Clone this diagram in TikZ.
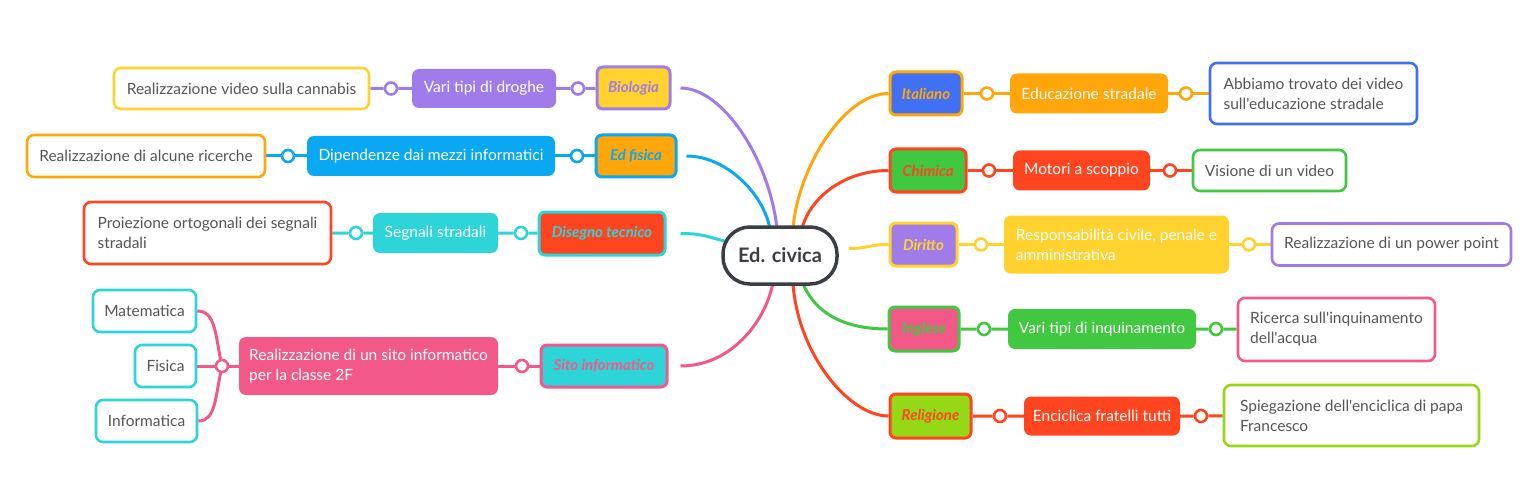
\documentclass[tikz,border=0pt]{standalone}
\usepackage{fontspec}
\setmainfont{Lato}[Ligatures=TeXOff]
\usetikzlibrary{backgrounds,calc}
\definecolor{cpurple}{HTML}{A07BEA}
\definecolor{cyellow}{HTML}{FFD22E}
\definecolor{csky}{HTML}{0AA7F2}
\definecolor{corange}{HTML}{FFA60A}
\definecolor{cred}{HTML}{FF4520}
\definecolor{ccyan}{HTML}{2ED5D8}
\definecolor{cpink}{HTML}{F25989}
\definecolor{cblue}{HTML}{4070F4}
\definecolor{cgreen}{HTML}{40C840}
\definecolor{clime}{HTML}{95D916}
\definecolor{cdark}{HTML}{3B3F45}
\definecolor{ctext}{HTML}{555555}
\begin{document}
\begin{tikzpicture}[x=1pt,y=-1pt,
  leaf/.style={draw=#1, line width=2.6pt, fill=white, rounded corners=7pt, text=ctext,
    font=\fontsize{15.5}{20}\selectfont, inner sep=0pt, align=left},
  lvtwo/.style={fill=#1, rounded corners=7pt, text=white,
    font=\fontsize{15.5}{20}\selectfont, inner sep=0pt, align=left},
  subj/.style 2 args={fill=#1, draw=#2, text=#2, line width=3pt, rounded corners=6pt,
    font=\fontsize{15}{17}\selectfont\bfseries\itshape, inner sep=0pt},
  dot/.style={circle, draw=#1, fill=white, line width=2.6pt, minimum size=12pt, inner sep=0pt},
  ln/.style={draw=#1, line width=3pt},
]
\useasboundingbox (0,0) rectangle (1524,492);

% center
\node[draw=cdark, line width=3.5pt, fill=white, rounded corners=27pt,
  minimum width=114pt, minimum height=57pt, text=cdark,
  font=\fontsize{20}{22}\selectfont\bfseries] (ed) at (780,255.5) {Ed. civica};

% ---------- left side ----------
% Biologia
\node[subj={cyellow}{cpurple}, minimum width=73pt, minimum height=42pt] (bio) at (633.5,88) {Biologia};
\node[lvtwo=cpurple, minimum width=144pt, minimum height=39pt] (droghe) at (484,88.5) {Vari tipi di droghe};
\node[leaf=cyellow, minimum width=255pt, minimum height=41pt] (cannabis) at (241.5,88.5) {Realizzazione video sulla cannabis};
\node[dot=cpurple] (c1a) at (391,88.5) {};
\node[dot=cpurple] (c1b) at (578,88.5) {};

% Ed fisica
\node[subj={corange}{csky}, minimum width=80pt, minimum height=42pt] (edf) at (636,156) {Ed fisica};
\node[lvtwo=csky, minimum width=248pt, minimum height=40pt] (dip) at (431,156) {Dipendenze dai mezzi informatici};
\node[leaf=corange, minimum width=238pt, minimum height=42pt] (ricerche) at (146,156) {Realizzazione di alcune ricerche};
\node[dot=csky] (c2a) at (288,156) {};
\node[dot=csky] (c2b) at (577,156) {};

% Disegno tecnico
\node[subj={cred}{ccyan}, minimum width=126pt, minimum height=43pt] (dis) at (602,233.5) {Disegno tecnico};
\node[lvtwo=ccyan, minimum width=125pt, minimum height=40pt] (segn) at (435.5,233) {Segnali stradali};
\node[leaf=cred, minimum width=247pt, minimum height=62pt] (proiez) at (207.5,233) {Proiezione ortogonali dei segnali\\stradali};
\node[dot=ccyan] (c3a) at (356,233) {};
\node[dot=ccyan] (c3b) at (521,233) {};

% Sito informatico
\node[subj={ccyan}{cpink}, minimum width=126pt, minimum height=42pt] (sito) at (604,366) {Sito informatico};
\node[lvtwo=cpink, minimum width=259pt, minimum height=58pt] (sitoL) at (368.5,366) {Realizzazione di un sito informatico\\per la classe 2F};
\node[leaf=ccyan, minimum width=103pt, minimum height=42pt] (mat) at (144.5,311) {Matematica};
\node[leaf=ccyan, minimum width=61pt, minimum height=42pt] (fis) at (165.5,366) {Fisica};
\node[leaf=ccyan, minimum width=101pt, minimum height=42pt] (inf) at (146.5,421) {Informatica};
\node[dot=cpink] (c4a) at (222,366) {};
\node[dot=cpink] (c4b) at (522,366) {};

% ---------- right side ----------
% Italiano
\node[subj={cblue}{corange}, minimum width=72pt, minimum height=43pt] (ita) at (926,93.5) {Italiano};
\node[lvtwo=corange, minimum width=158pt, minimum height=40pt] (edu) at (1089,93.5) {Educazione stradale};
\node[leaf=cblue, minimum width=207pt, minimum height=61pt] (abb) at (1313.5,93.5) {Abbiamo trovato dei video\\sull'educazione stradale};
\node[dot=corange] (c5a) at (987,93.5) {};
\node[dot=corange] (c5b) at (1186,93.5) {};

% Chimica
\node[subj={cgreen}{cred}, minimum width=76pt, minimum height=43pt] (chi) at (928,170.5) {Chimica};
\node[lvtwo=cred, minimum width=137pt, minimum height=40pt] (mot) at (1081.5,170.5) {Motori a scoppio};
\node[leaf=cgreen, minimum width=153pt, minimum height=41pt] (vis) at (1269.5,170.5) {Visione di un video};
\node[dot=cred] (c6a) at (989,170.5) {};
\node[dot=cred] (c6b) at (1170,170.5) {};

% Diritto
\node[subj={cpurple}{cyellow}, minimum width=67pt, minimum height=43pt] (dir) at (923.5,244.5) {Diritto};
\node[lvtwo=cyellow, minimum width=225pt, minimum height=58pt] (resp) at (1116.5,244.5) {Responsabilità civile, penale e\\amministrativa};
\node[leaf=cpurple, minimum width=239pt, minimum height=42pt] (pp) at (1391.5,244.5) {Realizzazione di un power point};
\node[dot=cyellow] (c7a) at (981,244.5) {};
\node[dot=cyellow] (c7b) at (1249,244.5) {};

% Inglese
\node[subj={cpink}{cgreen}, minimum width=70pt, minimum height=44pt] (ing) at (924,329) {Inglese};
\node[lvtwo=cgreen, minimum width=188pt, minimum height=40pt] (inq) at (1102,329) {Vari tipi di inquinamento};
\node[leaf=cpink, minimum width=197pt, minimum height=63pt] (ric) at (1336.5,329.5) {Ricerca sull'inquinamento\\dell'acqua};
\node[dot=cgreen] (c8a) at (984,329) {};
\node[dot=cgreen] (c8b) at (1216,329) {};

% Religione
\node[subj={clime}{cred}, minimum width=81pt, minimum height=44pt] (rel) at (930.5,416) {Religione};
\node[lvtwo=cred, minimum width=156pt, minimum height=39pt] (enc) at (1102,416) {Enciclica fratelli tutti};
\node[leaf=clime, minimum width=255pt, minimum height=61pt] (spi) at (1351.5,415.5) {Spiegazione dell'enciclica di papa\\Francesco};
\node[dot=cred] (c9a) at (1000,416) {};
\node[dot=cred] (c9b) at (1201,416) {};

% ---------- connectors ----------
\begin{pgfonlayer}{background}
\fill[white] (0,0) rectangle (1524,492);
\draw[ln=cpurple] (cannabis) -- (c1a) -- (droghe) -- (c1b) -- (bio);
\draw[ln=csky] (ricerche) -- (c2a) -- (dip) -- (c2b) -- (edf);
\draw[ln=ccyan] (proiez) -- (c3a) -- (segn) -- (c3b) -- (dis);
\draw[ln=cpink] (sitoL) -- (c4b) -- (sito);
\draw[ln=cpink] (c4a.center) -- (sitoL);
\draw[ln=cpink] (c4a.center) -- (fis.east);
\draw[ln=cpink] (c4a.center) .. controls (215,335) and (216,311) .. (mat.east);
\draw[ln=cpink] (c4a.center) .. controls (215,397) and (216,421) .. (inf.east);
\draw[ln=corange] (ita) -- (c5a) -- (edu) -- (c5b) -- (abb);
\draw[ln=cred] (chi) -- (c6a) -- (mot) -- (c6b) -- (vis);
\draw[ln=cyellow] (dir) -- (c7a) -- (resp) -- (c7b) -- (pp);
\draw[ln=cgreen] (ing) -- (c8a) -- (inq) -- (c8b) -- (ric);
\draw[ln=cred] (rel) -- (c9a) -- (enc) -- (c9b) -- (spi);

\draw[ln=cpurple] ([xshift=9pt]bio.east) .. controls +(42,0) and +(-8,-70) .. ($(ed.north)+(-3,3)$);
\draw[ln=csky] ([xshift=9pt]edf.east) .. controls +(40,0) and +(-6,-35) .. ($(ed.north)+(-10,4)$);
\draw[ln=ccyan] ([xshift=14pt]dis.east) .. controls +(25,0) and +(-20,-4) .. ($(ed.west)+(6,-14)$);
\draw[ln=cpink] ([xshift=12pt]sito.east) .. controls +(50,0) and +(-8,40) .. ($(ed.south)+(-7,-3)$);
\draw[ln=corange] ($(ed.north)+(13,3)$) .. controls +(5,-60) and +(-45,0) .. (ita.west);
\draw[ln=cred] ($(ed.north)+(22,3)$) .. controls +(8,-30) and +(-45,0) .. (chi.west);
\draw[ln=cyellow] ($(ed.east)+(10,-7)$) .. controls +(20,0) and +(-20,0) .. (dir.west);
\draw[ln=cgreen] ($(ed.south)+(23,-2)$) .. controls +(15,35) and +(-35,0) .. (ing.west);
\draw[ln=cred] ($(ed.south)+(13,-2)$) .. controls +(5,70) and +(-40,0) .. (rel.west);
\end{pgfonlayer}
\end{tikzpicture}
\end{document}
